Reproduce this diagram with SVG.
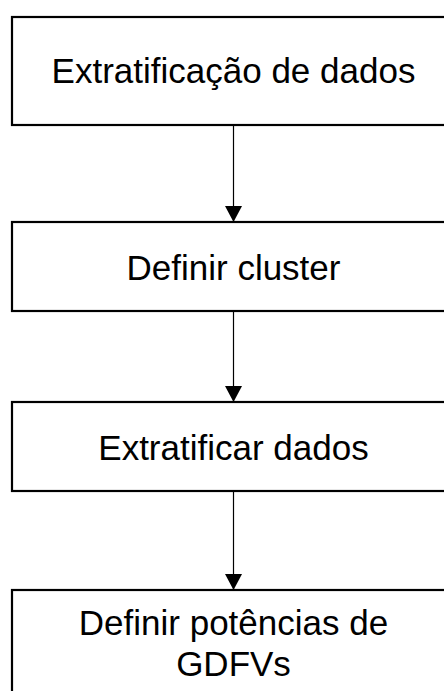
<svg xmlns="http://www.w3.org/2000/svg" width="444" height="691" viewBox="0 0 444 691">
  <style>
    .box { fill: #ffffff; stroke: #000000; stroke-width: 2.2; }
    .lbl { font-family: "Liberation Sans", Arial, sans-serif; font-size: 35px; fill: #000000; text-anchor: middle; }
    .conn { stroke: #000000; stroke-width: 1.2; fill: none; marker-end: url(#arrow); }
  </style>
  <defs>
    <marker id="arrow" markerUnits="userSpaceOnUse" markerWidth="17" markerHeight="17" refX="16" refY="8.5" orient="auto" viewBox="0 0 17 17">
      <path d="M0,0 L16,8.5 L0,17 z" fill="#000000"/>
    </marker>
  </defs>
  <rect width="444" height="691" fill="#ffffff"/>
  <g id="connectors">
    <line class="conn" x1="233.5" y1="126" x2="233.5" y2="222"/>
    <line class="conn" x1="233.5" y1="312" x2="233.5" y2="402"/>
    <line class="conn" x1="233.5" y1="492" x2="233.5" y2="590"/>
  </g>
  <g id="node1">
    <rect class="box" x="12" y="17" width="442" height="108"/>
    <text class="lbl" x="233.5" y="83">Extratificação de dados</text>
  </g>
  <g id="node2">
    <rect class="box" x="12" y="222" width="442" height="89"/>
    <text class="lbl" x="233.5" y="280">Definir cluster</text>
  </g>
  <g id="node3">
    <rect class="box" x="12" y="402" width="442" height="89"/>
    <text class="lbl" x="233.5" y="460">Extratificar dados</text>
  </g>
  <g id="node4">
    <rect class="box" x="12" y="590" width="442" height="130"/>
    <text class="lbl" x="233.5" y="635">Definir potências de</text>
    <text class="lbl" x="233.5" y="676">GDFVs</text>
  </g>
</svg>
